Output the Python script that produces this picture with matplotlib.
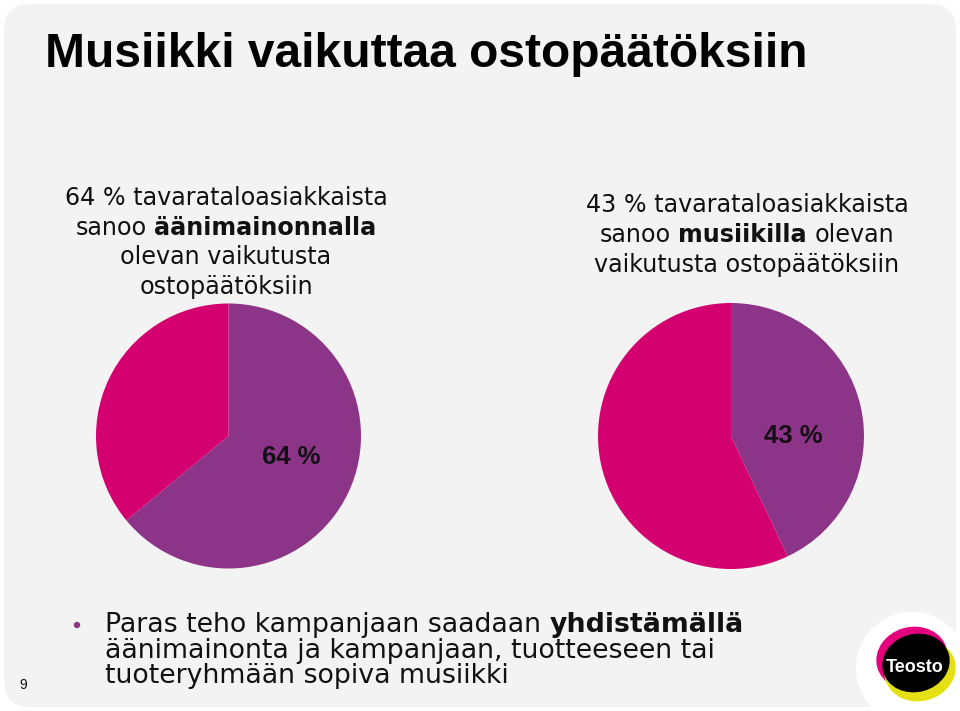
"""
Teosto slide 9 - Musiikki vaikuttaa ostopäätöksiin
Two pie charts: share of department store customers who say audio ads /
music affect their purchase decisions.
"""

import matplotlib
matplotlib.use("Agg")
import matplotlib.pyplot as plt
from matplotlib.patches import FancyBboxPatch, Circle, Ellipse

# ── Data ──────────────────────────────────────────────────────────────────────

left_values  = [64, 36]     # äänimainonta: vaikuttaa / muut
right_values = [43, 57]     # musiikki: vaikuttaa / muut

left_caption = [
    [("64 % tavarataloasiakkaista", False)],
    [("sanoo", False), ("äänimainonnalla", True)],
    [("olevan vaikutusta", False)],
    [("ostopäätöksiin", False)],
]
right_caption = [
    [("43 % tavarataloasiakkaista", False)],
    [("sanoo", False), ("musiikilla", True), ("olevan", False)],
    [("vaikutusta ostopäätöksiin", False)],
]
bullet_lines = [
    [("Paras teho kampanjaan saadaan", False), ("yhdistämällä", True)],
    [("äänimainonta ja kampanjaan, tuotteeseen tai", False)],
    [("tuoteryhmään sopiva musiikki", False)],
]

TITLE = "Musiikki vaikuttaa ostopäätöksiin"
PAGE = "9"

PURPLE  = "#8c3588"
MAGENTA = "#d5006f"
BG      = "#f3f3f3"
TXT     = "#111111"

W, H = 960, 711
fig = plt.figure(figsize=(W / 100, H / 100), dpi=100)
fig.patch.set_facecolor("white")

# overlay axes in pixel units (y down)
ov = fig.add_axes([0, 0, 1, 1])
ov.set_xlim(0, W)
ov.set_ylim(H, 0)
ov.axis("off")

ov.add_patch(FancyBboxPatch((24, 24), W - 48, H - 48,
                            boxstyle="round,pad=20,rounding_size=26",
                            fc=BG, ec="none"))

ov.text(45, 67, TITLE, fontsize=34.5, fontweight="bold", color="black",
        family="Liberation Sans", ha="left", va="baseline")


def mixed_line(x, y, parts, size, center=True, family="DejaVu Sans", gap=5.5):
    first = ov.text(x, y, parts[0][0], fontsize=size, color=TXT,
                    fontweight="bold" if parts[0][1] else "normal",
                    family=family, ha="left", va="baseline")
    arts = [first]
    for txt, bold in parts[1:]:
        a = ov.annotate(txt, xy=(1, 0), xycoords=arts[-1],
                        xytext=(gap, 0), textcoords="offset points",
                        fontsize=size, color=TXT, family=family,
                        fontweight="bold" if bold else "normal",
                        ha="left", va="bottom")
        arts.append(a)
    return first, arts, center, x


lines = []
for i, parts in enumerate(left_caption):
    lines.append(mixed_line(226, 205 + i * 29.7, parts, 17.2))
for i, parts in enumerate(right_caption):
    lines.append(mixed_line(747, 212 + i * 30, parts, 17.2))
for i, parts in enumerate(bullet_lines):
    lines.append(mixed_line(105, 632 + i * 25.5, parts, 19.3, center=False, gap=6.2))

# center the mixed lines on their x position
fig.canvas.draw()
r = fig.canvas.get_renderer()
inv = ov.transData.inverted()
for first, arts, center, x in lines:
    if not center:
        continue
    x0 = inv.transform(arts[0].get_window_extent(r).p0)[0]
    x1 = inv.transform(arts[-1].get_window_extent(r).p1)[0]
    first.set_x(x - (x1 - x0) / 2)

# bullet dot + page number
ov.add_patch(Circle((77, 625), 3.2, fc=PURPLE, ec="none"))
ov.text(23, 689, PAGE, fontsize=10, color=TXT, family="Liberation Sans",
        ha="center", va="baseline")

# ── Pies ──────────────────────────────────────────────────────────────────────

def pie_axes(cx, cy, rad):
    return fig.add_axes([(cx - rad) / W, (H - cy - rad) / H, 2 * rad / W, 2 * rad / H])


for (cx, cy, rad), vals, lab_xy in [((228.5, 436, 132.5), left_values, (0.47, -0.16)),
                                     ((731, 436, 133), right_values, (0.47, 0.0))]:
    ax = pie_axes(cx, cy, rad)
    ax.pie(vals, colors=[PURPLE, MAGENTA], startangle=90, counterclock=False,
           radius=1, wedgeprops=dict(linewidth=0))
    ax.set_xlim(-1, 1)
    ax.set_ylim(-1, 1)
    ax.set_aspect("equal")
    ax.axis("off")
    ax.text(lab_xy[0], lab_xy[1], f"{vals[0]} %", fontsize=18.5, fontweight="bold",
            color="#151015", family="Liberation Sans", ha="center", va="center")

# ── Teosto logo ───────────────────────────────────────────────────────────────

ov.add_patch(Circle((912, 668), 56, fc="white", ec="none"))
ov.add_patch(Ellipse((912, 658), 72, 62, angle=-15, fc="#e5007e", ec="none"))
ov.add_patch(Ellipse((920, 670), 72, 62, angle=-15, fc="#e4e011", ec="none"))
ov.add_patch(Ellipse((916, 663), 68, 58, angle=-15, fc="black", ec="none"))
ov.text(915, 667, "Teosto", fontsize=13, fontweight="bold", color="white",
        family="Liberation Sans", ha="center", va="center")

fig.savefig("out.png", dpi=100, facecolor="white")
